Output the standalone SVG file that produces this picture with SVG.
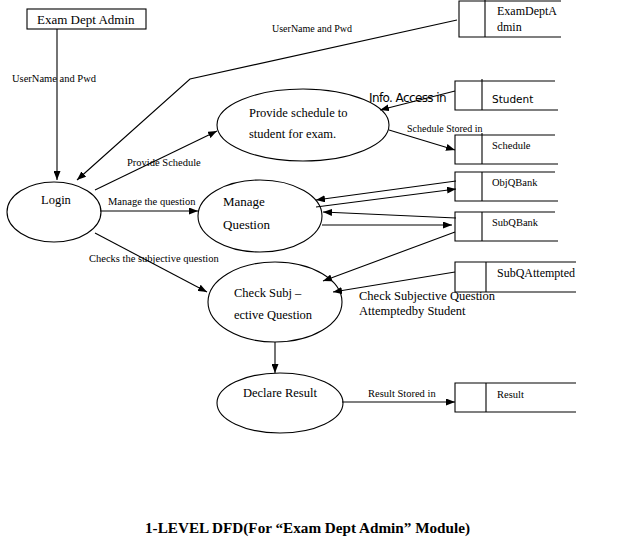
<svg xmlns="http://www.w3.org/2000/svg" width="637" height="547" viewBox="0 0 637 547">
<defs>
<marker id="ah" markerWidth="9" markerHeight="7" refX="9" refY="3.5" orient="auto" markerUnits="userSpaceOnUse">
<path d="M0,0 L9,3.5 L0,7 Z" fill="#000"/>
</marker>
<style>
.s{fill:none;stroke:#000;stroke-width:1.1}
.c{fill:none;stroke:#000;stroke-width:1.1;marker-end:url(#ah)}
.t{font-family:"Liberation Serif","Times New Roman",serif;fill:#000}
.ss{font-family:"DejaVu Sans","Liberation Sans",sans-serif;fill:#000}
.p{fill:#fff;stroke:#000;stroke-width:1.1}
</style>
</defs>
<rect width="637" height="547" fill="#fff"/>

<g id="connectors">
<path class="c" d="M57,29 L57,180"/>
<path class="c" d="M457,20 L190,79 L77,180"/>
<path class="c" d="M95,190 L217,131"/>
<path class="c" d="M100,211 L198,211"/>
<path class="c" d="M95,233 L207,292"/>
<path class="c" d="M455,91 L380,110"/>
<path class="c" d="M389,130 L455,150"/>
<path class="c" d="M456,181 L316,200"/>
<path class="c" d="M316,207 L456,189"/>
<path class="c" d="M456,218 L323,212"/>
<path class="c" d="M322,225 L452,225"/>
<path class="c" d="M455,232 L323,281"/>
<path class="c" d="M455,272 L333,292"/>
<path class="c" d="M275,342 L275,373"/>
<path class="c" d="M342,402 L455,402"/>
<text class="t" x="272" y="32" font-size="10">UserName and Pwd</text>
<text class="t" x="12" y="82" font-size="10.5">UserName and Pwd</text>
<text class="t" x="127" y="166" font-size="10.5">Provide Schedule</text>
<text class="t" x="108" y="205" font-size="10.5">Manage the question</text>
<text class="t" x="89" y="262" font-size="10.5">Checks the subjective question</text>
<text class="ss" x="369" y="102" font-size="12" letter-spacing="-0.6">Info. Access in</text>
<text class="t" x="407" y="132" font-size="10">Schedule Stored in</text>
<text class="t" x="359" y="300" font-size="12.5">Check Subjective Question</text>
<text class="t" x="359" y="315" font-size="12.5">Attemptedby Student</text>
<text class="t" x="368" y="397" font-size="10.5">Result Stored in</text>
</g>

<g id="examDeptAdmin">
<rect class="p" x="27" y="9" width="119" height="20"/>
<text class="t" x="37" y="24" font-size="13">Exam Dept Admin</text>
</g>

<g id="storeExamDeptAdmin">
<path class="s" d="M561,1 L459,1 L459,37 L561,37 M485,0 L485,37"/>
<text class="t" x="497" y="15" font-size="12">ExamDeptA</text>
<text class="t" x="497" y="31" font-size="12">dmin</text>
</g>

<g id="storeStudent">
<path class="s" d="M555,81 L455,81 L455,110 L558,110 M482,79 L482,110"/>
<text class="ss" x="492" y="103" font-size="10.5">Student</text>
</g>

<g id="storeSchedule">
<path class="s" d="M555,135 L455,135 L455,164 L558,164 M482,133 L482,164"/>
<text class="t" x="492" y="149" font-size="10.5">Schedule</text>
</g>

<g id="storeObjQBank">
<path class="s" d="M555,172 L455,172 L455,201 L558,201 M482,172 L482,201"/>
<text class="t" x="492" y="186" font-size="10.5">ObjQBank</text>
</g>

<g id="storeSubQBank">
<path class="s" d="M555,212 L455,212 L455,241 L558,241 M482,212 L482,241"/>
<text class="t" x="492" y="226" font-size="10.5">SubQBank</text>
</g>

<g id="storeSubQAttempted">
<path class="s" d="M576,262 L455,262 L455,292 L576,292 M486,262 L486,292"/>
<text class="t" x="497" y="277" font-size="12">SubQAttempted</text>
</g>

<g id="storeResult">
<path class="s" d="M576,383 L455,383 L455,412 L576,412 M486,383 L486,412"/>
<text class="t" x="497" y="398" font-size="10.5">Result</text>
</g>

<g id="provideSchedule">
<ellipse class="s" cx="303" cy="125" rx="86" ry="36"/>
<text class="t" x="249" y="117" font-size="12.5">Provide schedule to</text>
<text class="t" x="249" y="138" font-size="12.5">student for exam.</text>
</g>

<g id="login">
<ellipse class="s" cx="54" cy="212" rx="47" ry="30"/>
<text class="t" x="41" y="204" font-size="12.5">Login</text>
</g>

<g id="manageQuestion">
<ellipse class="s" cx="260" cy="216" rx="62" ry="36"/>
<text class="t" x="223" y="206" font-size="13">Manage</text>
<text class="t" x="223" y="229" font-size="13">Question</text>
</g>

<g id="checkSubjective">
<ellipse class="s" cx="275" cy="302" rx="67" ry="40"/>
<text class="t" x="234" y="297" font-size="12.5">Check Subj –</text>
<text class="t" x="234" y="319" font-size="12.5">ective Question</text>
</g>

<g id="declareResult">
<ellipse class="s" cx="280" cy="403" rx="63" ry="30"/>
<text class="t" x="243" y="397" font-size="12.5">Declare Result</text>
</g>

<text class="t" x="145" y="533" font-size="15.2" font-weight="bold">1-LEVEL DFD(For “Exam Dept Admin” Module)</text>
</svg>
